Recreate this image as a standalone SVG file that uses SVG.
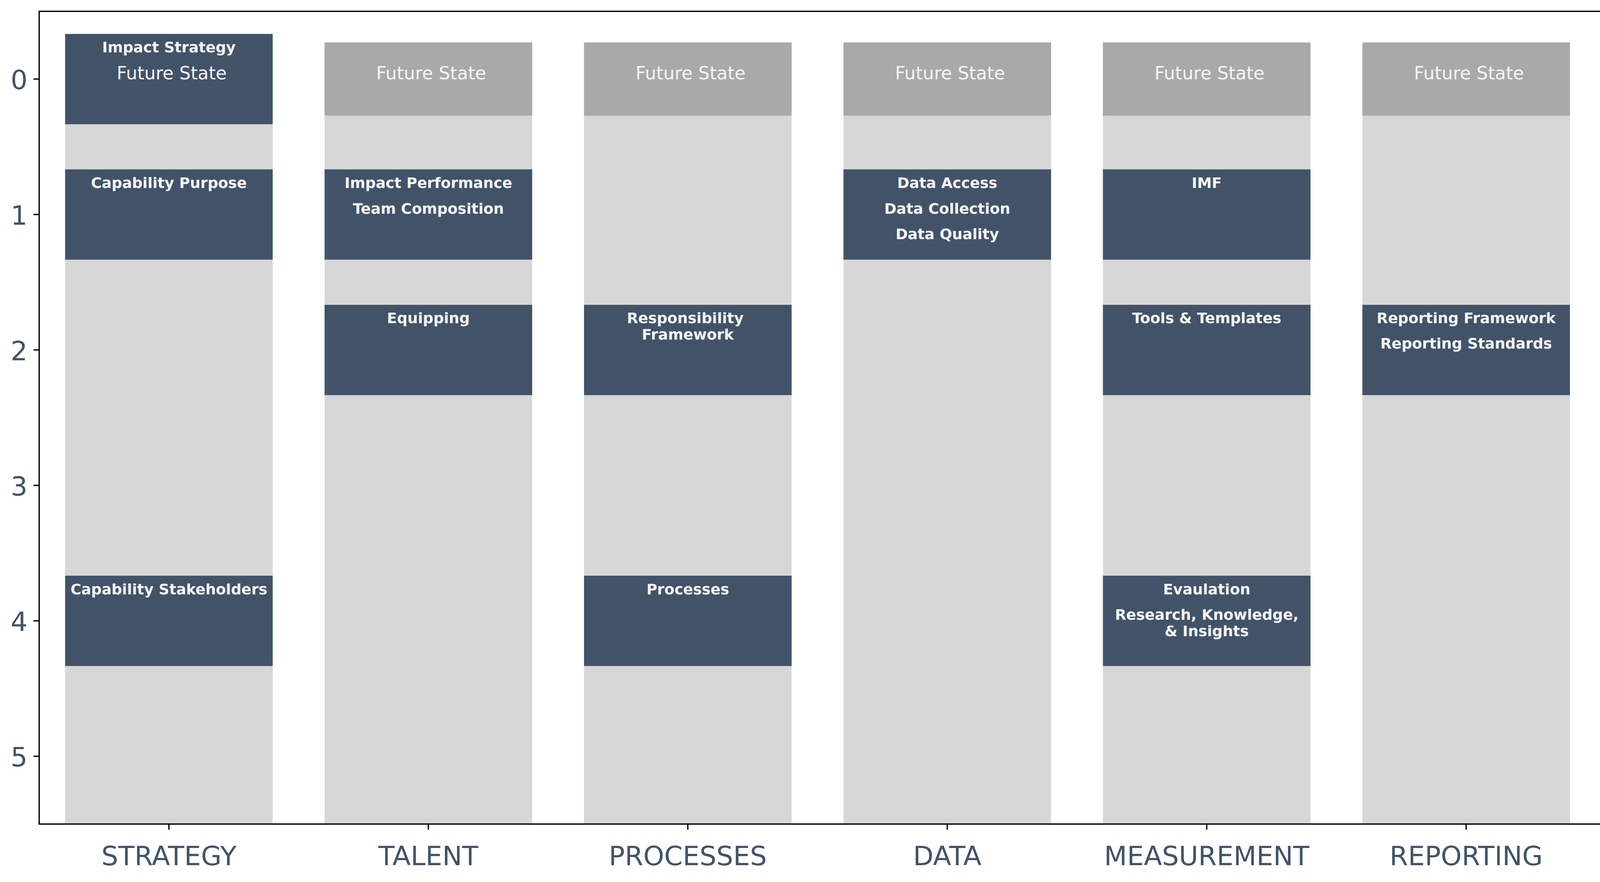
<svg xmlns="http://www.w3.org/2000/svg" width="4780" height="2257" viewBox="0 0 4780 2257">
<style>
.bg{fill:#d7d7d7}
.fs{fill:#a9a9a9}
.blk{fill:#425369}
.fst{font-family:"DejaVu Sans","Liberation Sans",sans-serif;font-size:45.8px;fill:#f5f5f5;text-anchor:middle}
.lb{font-family:"DejaVu Sans","Liberation Sans",sans-serif;font-size:37.5px;font-weight:bold;fill:#f5f5f5;text-anchor:middle}
.tk{font-family:"DejaVu Sans","Liberation Sans",sans-serif;font-size:68px;fill:#425369}
.tick{stroke:#000;stroke-width:3.33}
</style>
<rect width="4780" height="2257" fill="#ffffff"/>

<g id="col-strategy">
<rect class="bg" x="166.7" y="108.7" width="531.4" height="2000"/>
<rect class="blk" x="166.7" y="86.8" width="531.4" height="231.1"/>
<rect class="blk" x="166.7" y="433.4" width="531.4" height="231.1"/>
<rect class="blk" x="166.7" y="1473.2" width="531.4" height="231.1"/>
<text class="lb" x="432.4" y="133.5">Impact Strategy</text>
<text class="fst" x="439.5" y="203">Future State</text>
<text class="lb" x="432.4" y="481">Capability Purpose</text>
<text class="lb" x="432.4" y="1520.7">Capability Stakeholders</text>
</g>

<g id="col-talent">
<rect class="bg" x="830.9" y="108.7" width="531.4" height="2000"/>
<rect class="fs" x="830.9" y="108.7" width="531.4" height="187.2"/>
<rect class="blk" x="830.9" y="433.4" width="531.4" height="231.1"/>
<rect class="blk" x="830.9" y="780" width="531.4" height="231.1"/>
<text class="fst" x="1103.7" y="203">Future State</text>
<text class="lb" x="1096.6" y="481">Impact Performance</text>
<text class="lb" x="1096.6" y="546.5">Team Composition</text>
<text class="lb" x="1096.6" y="827">Equipping</text>
</g>

<g id="col-processes">
<rect class="bg" x="1495.1" y="108.7" width="531.4" height="2000"/>
<rect class="fs" x="1495.1" y="108.7" width="531.4" height="187.2"/>
<rect class="blk" x="1495.1" y="780" width="531.4" height="231.1"/>
<rect class="blk" x="1495.1" y="1473.2" width="531.4" height="231.1"/>
<text class="fst" x="1767.9" y="203">Future State</text>
<text class="lb" x="1754.3" y="827">Responsibility</text>
<text class="lb" x="1760.8" y="869">Framework</text>
<text class="lb" x="1760.8" y="1520.7">Processes</text>
</g>

<g id="col-data">
<rect class="bg" x="2159.3" y="108.7" width="531.4" height="2000"/>
<rect class="fs" x="2159.3" y="108.7" width="531.4" height="187.2"/>
<rect class="blk" x="2159.3" y="433.4" width="531.4" height="231.1"/>
<text class="fst" x="2432.1" y="203">Future State</text>
<text class="lb" x="2425" y="481">Data Access</text>
<text class="lb" x="2425" y="546.5">Data Collection</text>
<text class="lb" x="2425" y="612">Data Quality</text>
</g>

<g id="col-measurement">
<rect class="bg" x="2823.5" y="108.7" width="531.4" height="2000"/>
<rect class="fs" x="2823.5" y="108.7" width="531.4" height="187.2"/>
<rect class="blk" x="2823.5" y="433.4" width="531.4" height="231.1"/>
<rect class="blk" x="2823.5" y="780" width="531.4" height="231.1"/>
<rect class="blk" x="2823.5" y="1473.2" width="531.4" height="231.1"/>
<text class="fst" x="3096.3" y="203">Future State</text>
<text class="lb" x="3089.2" y="481">IMF</text>
<text class="lb" x="3089.2" y="827">Tools &amp; Templates</text>
<text class="lb" x="3089.2" y="1520.7">Evaulation</text>
<text class="lb" x="3089.2" y="1585.7">Research, Knowledge,</text>
<text class="lb" x="3089.2" y="1627.5">&amp; Insights</text>
</g>

<g id="col-reporting">
<rect class="bg" x="3487.7" y="108.7" width="531.4" height="2000"/>
<rect class="fs" x="3487.7" y="108.7" width="531.4" height="187.2"/>
<rect class="blk" x="3487.7" y="780" width="531.4" height="231.1"/>
<text class="fst" x="3760.5" y="203">Future State</text>
<text class="lb" x="3753.4" y="827">Reporting Framework</text>
<text class="lb" x="3753.4" y="892">Reporting Standards</text>
</g>

<g id="col-technology">
<rect class="bg" x="4151.9" y="108.7" width="531.4" height="2000"/>
<rect class="fs" x="4151.9" y="108.7" width="531.4" height="187.2"/>
<rect class="blk" x="4151.9" y="1473.2" width="531.4" height="231.1"/>
<text class="fst" x="4424.7" y="203">Future State</text>
<text class="lb" x="4417.6" y="1520.7">Techology</text>
</g>

<g id="axes">
<rect x="100.3" y="29" width="4649.7" height="2079.7" fill="none" stroke="#000" stroke-width="3.33"/>
<line class="tick" x1="85.7" y1="202.3" x2="100.3" y2="202.3"/>
<line class="tick" x1="85.7" y1="548.9" x2="100.3" y2="548.9"/>
<line class="tick" x1="85.7" y1="895.5" x2="100.3" y2="895.5"/>
<line class="tick" x1="85.7" y1="1242.1" x2="100.3" y2="1242.1"/>
<line class="tick" x1="85.7" y1="1588.7" x2="100.3" y2="1588.7"/>
<line class="tick" x1="85.7" y1="1935.3" x2="100.3" y2="1935.3"/>
<line class="tick" x1="432.4" y1="2108.7" x2="432.4" y2="2123.3"/>
<line class="tick" x1="1096.6" y1="2108.7" x2="1096.6" y2="2123.3"/>
<line class="tick" x1="1760.8" y1="2108.7" x2="1760.8" y2="2123.3"/>
<line class="tick" x1="2425" y1="2108.7" x2="2425" y2="2123.3"/>
<line class="tick" x1="3089.2" y1="2108.7" x2="3089.2" y2="2123.3"/>
<line class="tick" x1="3753.4" y1="2108.7" x2="3753.4" y2="2123.3"/>
<line class="tick" x1="4417.6" y1="2108.7" x2="4417.6" y2="2123.3"/>
<g class="tk" text-anchor="end">
<text x="70.5" y="228.3">0</text>
<text x="70.5" y="574.9">1</text>
<text x="70.5" y="921.5">2</text>
<text x="70.5" y="1268.1">3</text>
<text x="70.5" y="1614.7">4</text>
<text x="70.5" y="1961.3">5</text>
</g>
<g class="tk" text-anchor="middle">
<text x="432.4" y="2214">STRATEGY</text>
<text x="1096.6" y="2214">TALENT</text>
<text x="1760.8" y="2214">PROCESSES</text>
<text x="2425" y="2214">DATA</text>
<text x="3089.2" y="2214">MEASUREMENT</text>
<text x="3753.4" y="2214">REPORTING</text>
<text x="4417.6" y="2214">TECHNOLOGY</text>
</g>
</g>
</svg>
